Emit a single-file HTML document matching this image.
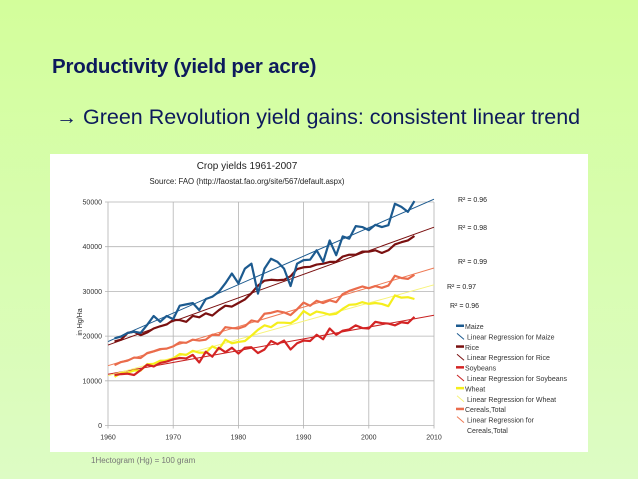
<!DOCTYPE html>
<html><head><meta charset="utf-8"><style>
body{margin:0;width:638px;height:479px;overflow:hidden;background:linear-gradient(#d3fe9b,#ddfcc4);font-family:"Liberation Sans",sans-serif}
.t{position:absolute;white-space:nowrap}
</style></head><body>
<div class="t" style="left:52px;top:55px;font-size:20.5px;font-weight:bold;color:#0d1a5c;letter-spacing:-0.2px">Productivity (yield per acre)</div>
<div class="t" style="left:56px;top:105px;font-size:21.5px;color:#0d1a5c"><span style="font-size:21px">→</span> Green Revolution yield gains: consistent linear trend</div>
<div style="position:absolute;left:50px;top:154px;width:538px;height:298px;background:#fff"></div>
<div class="t" style="left:91px;top:456px;font-size:8px;color:#777">1Hectogram (Hg) = 100 gram</div>
<svg id="c" width="638" height="479" style="position:absolute;left:0;top:0"></svg>
<script>
const years=[];for(let y=1961;y<=2007;y++)years.push(y);
const maize=[19500,19900,20700,21000,20700,22500,24500,23200,24500,23800,26800,27100,27400,25800,28300,28800,29900,31800,34000,31800,35100,36200,29500,35100,37300,36600,35100,31200,36200,37000,37100,39200,36600,41400,38100,42300,41800,44600,44400,43700,44900,44400,44800,49600,48900,47800,50200];
const rice=[18800,19200,20700,21000,20200,20800,21700,22200,22600,23600,23600,23200,24500,24200,25100,24600,25800,26800,26600,27400,28200,29600,31300,32400,32600,32500,32600,33400,35000,35400,35500,36000,36200,36600,36600,37800,38200,38200,38900,38900,39200,38600,39200,40500,41000,41400,42400];
const soybeans=[11300,11500,11600,11300,12400,13600,13200,14000,14300,14800,15100,15000,15800,14100,16500,15400,17400,16400,17400,16100,17400,17500,16200,17000,18900,18200,19000,17000,18400,19000,18900,20300,19300,21700,20300,21200,21500,22400,21800,21700,23200,22900,22800,22400,23100,22900,24300];
const wheat=[10900,11700,11800,12300,12300,13700,13800,14500,14500,15000,16000,15800,16700,16300,16300,17700,17000,19200,18400,18700,18900,20100,21400,22400,22000,23000,23000,22900,23800,25600,24700,25500,25200,24800,25000,26100,27000,27100,27600,27200,27400,27200,26700,29100,28600,28700,28300];
const cereals=[13500,14200,14500,15200,15100,16200,16600,17100,17200,17700,18600,18500,19200,19000,19200,20300,20200,22000,21800,21700,22200,23500,23200,25000,25200,25600,25300,24700,26000,27500,26800,27900,27400,28000,27600,29400,30100,30600,31100,30700,31200,30800,31300,33500,33000,32800,33700];
const xTicks=[1960,1970,1980,1990,2000,2010];
const yTicks=[0,10000,20000,30000,40000,50000];
const r2Labels=["R² = 0.96","R² = 0.98","R² = 0.99","R² = 0.97","R² = 0.96"];
const legendLabels=["Maize","Linear Regression for Maize","Rice","Linear Regression for Rice","Soybeans","Linear Regression for Soybeans","Wheat","Linear Regression for Wheat","Cereals,Total","Linear Regression for","Cereals,Total"];
const NS="http://www.w3.org/2000/svg",svg=document.getElementById('c');
const X=v=>108+(v-1960)/50*326, Y=v=>425.5-v/50000*223.5;
function el(t,a,p){const e=document.createElementNS(NS,t);for(const k in a)e.setAttribute(k,a[k]);(p||svg).appendChild(e);return e;}
function txt(s,a){const e=el('text',a);e.textContent=s;return e;}
yTicks.forEach(v=>{const g=el('line',{x1:X(1960)-3,x2:X(2010),y1:Y(v),y2:Y(v),stroke:'#b3b3b3','stroke-width':0.8});

const t=txt(String(v),{x:X(1960)-6,y:Y(v)+2.5,'font-size':7,'text-anchor':'end',fill:'#333'});
});
xTicks.forEach(v=>{const g=el('line',{x1:X(v),x2:X(v),y1:Y(50000),y2:Y(0)+3,stroke:'#b3b3b3','stroke-width':0.8});

const t=txt(String(v),{x:X(v),y:Y(0)+14,'font-size':7,'text-anchor':'middle',fill:'#333'});
});
let t=txt('Crop yields 1961-2007',{x:247,y:169,'font-size':10,'text-anchor':'middle',fill:'#222'});
t=txt('Source: FAO (http://faostat.fao.org/site/567/default.aspx)',{x:247,y:184,'font-size':7.8,'text-anchor':'middle',fill:'#222'});
t=txt('in Hg/Ha',{x:0,y:0,'font-size':7,'text-anchor':'middle',fill:'#222',transform:'translate(82,322) rotate(-90)'});
const series=[['maize',maize,'#1c5a8f','#1c5a8f'],['rice',rice,'#7a1010','#7a1010'],['soybeans',soybeans,'#d42424','#c82020'],['wheat',wheat,'#f5ee1c','#f7f37a'],['cereals',cereals,'#ea6c4c','#ee7a55']];
function fit(v){const n=v.length;let sx=0,sy=0,sxx=0,sxy=0;years.forEach((x,i)=>{sx+=x;sy+=v[i];sxx+=x*x;sxy+=x*v[i];});const b=(n*sxy-sx*sy)/(n*sxx-sx*sx);return [b,(sy-b*sx)/n];}
series.forEach(s=>{const [b,a]=fit(s[1]);
const l=el('line',{x1:X(1960),y1:Y(a+b*1960),x2:X(2010),y2:Y(a+b*2010),stroke:s[3],'stroke-width':1});
});
series.slice().reverse().forEach(s=>{const p=el('polyline',{points:years.map((y,i)=>X(y)+','+Y(s[1][i])).join(' '),fill:'none',stroke:s[2],'stroke-width':2.2,'stroke-linejoin':'round'});
});
const r2pos=[[458,202],[458,230],[458,264],[447,289],[450,308]];
r2Labels.forEach((s,i)=>{const e=txt(s,{x:r2pos[i][0],y:r2pos[i][1],'font-size':7,fill:'#222'});});
const lc=['#1c5a8f','#1c5a8f','#7a1010','#7a1010','#d42424','#c82020','#f5ee1c','#f7f37a','#ea6c4c','#ee7a55'];
legendLabels.forEach((s,i)=>{const y=328+i*10.4;
if(i<10){let m;if(i%2==0)m=el('rect',{x:456,y:y-3.5,width:8,height:2.5,fill:lc[i]});else m=el('line',{x1:457,y1:y-5,x2:464,y2:y+1,stroke:lc[i],'stroke-width':1});
}
const e=txt(s,{x:i%2==0&&i<10?465:467,y:y+1,'font-size':7,fill:'#333'});});
</script></body></html>
